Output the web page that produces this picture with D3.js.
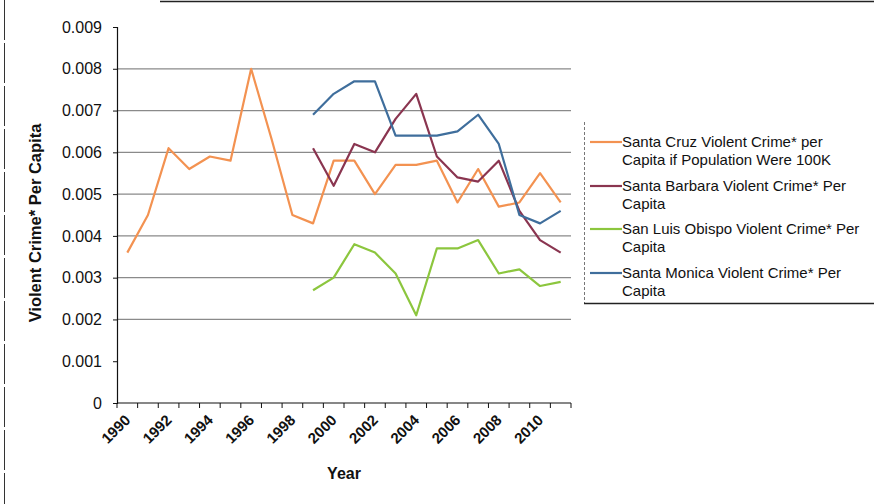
<!DOCTYPE html>
<html>
<head>
<meta charset="utf-8">
<script src="https://cdn.jsdelivr.net/npm/d3@7"></script>
<style>
  html, body { margin: 0; padding: 0; background: #fff; }
  svg { display: block; font-family: Arial, "Liberation Sans", Helvetica, sans-serif; }
</style>
</head>
<body>
<svg id="chart" width="874" height="504"></svg>
<script>
// Years on the category axis
const years = d3.range(1990, 2012);

// Violent crime per capita, by city (null = no data)
const santaCruz = [0.0036, 0.0045, 0.0061, 0.0056, 0.0059, 0.0058, 0.0080, 0.0063, 0.0045, 0.0043,
                   0.0058, 0.0058, 0.0050, 0.0057, 0.0057, 0.0058, 0.0048, 0.0056, 0.0047, 0.0048, 0.0055, 0.0048];
const santaBarbara = [null, null, null, null, null, null, null, null, null, 0.0061,
                      0.0052, 0.0062, 0.0060, 0.0068, 0.0074, 0.0059, 0.0054, 0.0053, 0.0058, 0.0046, 0.0039, 0.0036];
const sanLuisObispo = [null, null, null, null, null, null, null, null, null, 0.0027,
                       0.0030, 0.0038, 0.0036, 0.0031, 0.0021, 0.0037, 0.0037, 0.0039, 0.0031, 0.0032, 0.0028, 0.0029];
const santaMonica = [null, null, null, null, null, null, null, null, null, 0.0069,
                     0.0074, 0.0077, 0.0077, 0.0064, 0.0064, 0.0064, 0.0065, 0.0069, 0.0062, 0.0045, 0.0043, 0.0046];

const yTicks = [0, 0.001, 0.002, 0.003, 0.004, 0.005, 0.006, 0.007, 0.008, 0.009];
const gridValues = [0.002, 0.003, 0.004, 0.005, 0.006, 0.007, 0.008];
const xLabels = years.filter(y => y % 2 === 0);

const series = [
  { name: ["Santa Cruz Violent Crime* per", "Capita if Population Were 100K"], values: santaCruz, color: "#f39251" },
  { name: ["Santa Barbara Violent Crime* Per", "Capita"], values: santaBarbara, color: "#8a3550" },
  { name: ["San Luis Obispo Violent Crime* Per", "Capita"], values: sanLuisObispo, color: "#8cc63e" },
  { name: ["Santa Monica Violent Crime* Per", "Capita"], values: santaMonica, color: "#3f6e9c" }
];

const svg = d3.select("#chart");
const plot = { left: 117, right: 571, top: 27, bottom: 403 };

const x = d3.scaleBand().domain(years).range([plot.left, plot.right]);
const y = d3.scaleLinear().domain([0, 0.009]).range([plot.bottom, plot.top]);

// Outer frame
svg.append("line").attr("x1", 4.5).attr("x2", 4.5).attr("y1", 0).attr("y2", 504)
  .attr("stroke", "#333").attr("stroke-width", 1).attr("stroke-dasharray", "40,3");
svg.append("line").attr("x1", 160).attr("x2", 874).attr("y1", 1.5).attr("y2", 1.5)
  .attr("stroke", "#222").attr("stroke-width", 1.5);

// Horizontal gridlines
svg.append("g").selectAll("line").data(gridValues).join("line")
  .attr("x1", plot.left).attr("x2", plot.right)
  .attr("y1", d => y(d)).attr("y2", d => y(d))
  .attr("stroke", "#8a8a8a").attr("stroke-width", 1.3);

// Y axis
const yAxis = svg.append("g")
  .attr("transform", `translate(${plot.left},0)`)
  .call(d3.axisLeft(y).tickValues(yTicks).tickSize(4).tickPadding(11)
    .tickFormat(d => d === 0 ? "0" : d3.format(".3f")(d)));
yAxis.select(".domain").attr("stroke", "#111").attr("stroke-width", 1.2);
yAxis.selectAll(".tick line").attr("stroke", "#111");
yAxis.selectAll("text").attr("font-size", 16).attr("fill", "#111")
  .attr("font-family", "Arial, 'Liberation Sans', sans-serif");

// X axis: ticks between categories, labels on every other year
const xAxisG = svg.append("g").attr("transform", `translate(0,${plot.bottom})`);
xAxisG.append("line").attr("x1", plot.left).attr("x2", plot.right).attr("y1", 0).attr("y2", 0)
  .attr("stroke", "#111").attr("stroke-width", 1.2);
const boundaries = years.map(yr => x(yr)).concat([x(years[years.length - 1]) + x.bandwidth()]);
xAxisG.selectAll("line.tk").data(boundaries).join("line").attr("class", "tk")
  .attr("x1", d => d).attr("x2", d => d).attr("y1", 0).attr("y2", 5)
  .attr("stroke", "#111").attr("stroke-width", 1);
xAxisG.selectAll("text").data(xLabels).join("text")
  .attr("transform", d => `translate(${x(d) + x.bandwidth() / 2 + 4},${18}) rotate(-45)`)
  .attr("text-anchor", "end")
  .attr("font-size", 15).attr("font-weight", "bold").attr("fill", "#111")
  .text(d => d);

// Axis titles
svg.append("text")
  .attr("transform", `translate(41,${(plot.top + plot.bottom) / 2 + 8}) rotate(-90)`)
  .attr("text-anchor", "middle").attr("font-size", 16.5).attr("font-weight", "bold").attr("fill", "#111")
  .text("Violent Crime* Per Capita");
svg.append("text")
  .attr("x", 344).attr("y", 479)
  .attr("text-anchor", "middle").attr("font-size", 16).attr("font-weight", "bold").attr("fill", "#111")
  .text("Year");

// Series lines
const line = d3.line()
  .defined(d => d.v !== null)
  .x(d => x(d.year) + x.bandwidth() / 2)
  .y(d => y(d.v));

svg.append("g").selectAll("path").data(series).join("path")
  .attr("fill", "none")
  .attr("stroke", d => d.color)
  .attr("stroke-width", 2.2)
  .attr("stroke-linejoin", "round")
  .attr("d", d => line(d.values.map((v, i) => ({ year: years[i], v }))));

// Legend
const legend = svg.append("g");
legend.append("line").attr("x1", 584.5).attr("x2", 584.5).attr("y1", 122).attr("y2", 303)
  .attr("stroke", "#777").attr("stroke-width", 1).attr("stroke-dasharray", "3,2");
legend.append("line").attr("x1", 584).attr("x2", 874).attr("y1", 303.5).attr("y2", 303.5)
  .attr("stroke", "#222").attr("stroke-width", 1.3);

const entryY = [142, 186, 229, 273];
const entries = legend.selectAll("g.entry").data(series).join("g").attr("class", "entry")
  .attr("transform", (d, i) => `translate(0,${entryY[i]})`);
entries.append("line").attr("x1", 590).attr("x2", 622).attr("y1", 0).attr("y2", 0)
  .attr("stroke", d => d.color).attr("stroke-width", 2.2);
entries.each(function (d) {
  const t = d3.select(this).append("text")
    .attr("x", 622).attr("y", 5)
    .attr("font-size", 15).attr("fill", "#111");
  d.name.forEach((s, j) => {
    t.append("tspan").attr("x", 622).attr("dy", j === 0 ? 0 : 18).text(s);
  });
});
</script>
</body>
</html>
